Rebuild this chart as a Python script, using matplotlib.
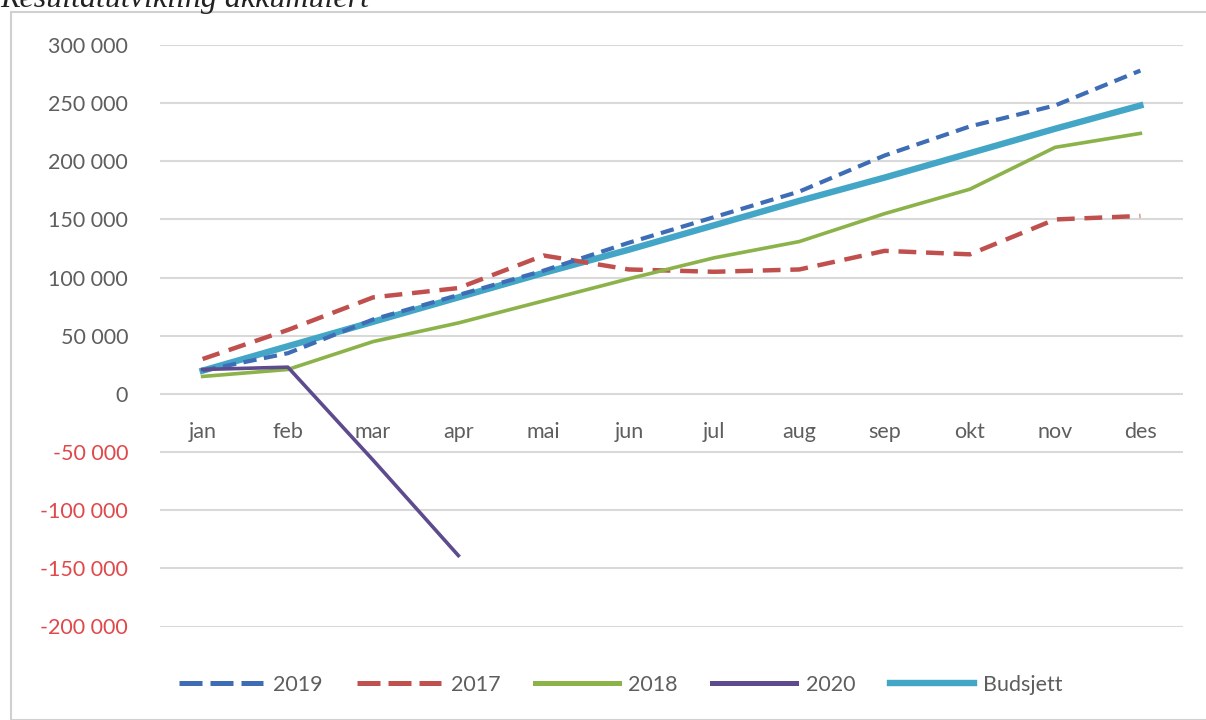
import matplotlib
matplotlib.use("Agg")
import matplotlib.pyplot as plt
from matplotlib.patches import Rectangle
from matplotlib.lines import Line2D
from matplotlib.ticker import FuncFormatter

# Accumulated result per month
months = ["jan", "feb", "mar", "apr", "mai", "jun", "jul", "aug", "sep", "okt", "nov", "des"]
res_2019 = [20000, 35000, 64000, 85000, 106000, 130000, 152000, 174000, 205000, 230000, 248000, 278000]
res_2017 = [30000, 55000, 83000, 91000, 119000, 107000, 105000, 107000, 123000, 120000, 150000, 153000]
res_2018 = [15000, 21000, 45000, 61000, 80000, 99000, 117000, 131000, 155000, 176000, 212000, 224000]
res_2020 = [21000, 23000, -57000, -139000]
budsjett = [20000, 41000, 62000, 83000, 104000, 124000, 145000, 166000, 186000, 207000, 228000, 248000]
y_ticks = [-200000, -150000, -100000, -50000, 0, 50000, 100000, 150000, 200000, 250000, 300000]

FONT = ["Lato", "DejaVu Sans"]
FS = 15.5
GREY = "#5E5E5E"
NEG_RED = "#E0484A"

C2019, C2017, C2018, C2020, CBUD = "#3E6DB5", "#C0504D", "#8CB24A", "#5E4B8E", "#43A6C6"

W, H = 1206, 720
fig = plt.figure(figsize=(W / 100, H / 100), dpi=100)

# chart frame
fig.patches.append(Rectangle((11 / W, 0), 1.2, 1 - 12 / H, transform=fig.transFigure,
                             fill=False, edgecolor="#D0D0D0", linewidth=1.5))

# title, partly above the top edge
fig.text(0.0, 1 - 7 / H, "Resultatutvikling akkumulert", family="Liberation Serif",
         style="italic", fontsize=23, color="#222222", ha="left", va="baseline")

left, right = 160 / W, 1183 / W
top, bottom = 1 - 45 / H, 1 - 626.5 / H
ax = fig.add_axes([left, bottom, right - left, top - bottom])

x = list(range(len(months)))
ax.plot(x, res_2019, color=C2019, lw=3.0, dashes=(3.2, 1.8), zorder=4)
ax.plot(x, res_2017, color=C2017, lw=3.2, dashes=(4.0, 2.2), zorder=3)
ax.plot(x, res_2018, color=C2018, lw=2.6, zorder=3)
ax.plot(x[:len(res_2020)], res_2020, color=C2020, lw=2.6, zorder=5)
ax.plot(x, budsjett, color=CBUD, lw=4.6, zorder=2)

ax.set_xlim(-0.5, len(months) - 0.5)
ax.set_ylim(-200000, 300000)
ax.set_yticks(y_ticks)
ax.yaxis.set_major_formatter(FuncFormatter(lambda v, p: f"{int(v):,}".replace(",", " ")))
ax.grid(axis="y", color="#D9D9D9", linewidth=1.5, zorder=0)
ax.set_axisbelow(True)
ax.tick_params(axis="y", length=0, pad=23, labelsize=FS, labelcolor=GREY)
for lab in ax.get_yticklabels():
    lab.set_family(FONT)
    if lab.get_text().startswith("-"):
        lab.set_color(NEG_RED)
ax.set_xticks([])
for s in ax.spines.values():
    s.set_visible(False)

# category labels sit below the zero line
for i, m in enumerate(months):
    ax.annotate(m, (i, 0), xytext=(0, -38), textcoords="offset pixels",
                ha="center", va="center", fontsize=FS, color=GREY, family=FONT)

# legend keys with longer dashes
handles = [
    Line2D([], [], color=C2019, lw=3.6, dashes=(4.6, 1.6)),
    Line2D([], [], color=C2017, lw=3.6, dashes=(4.6, 1.6)),
    Line2D([], [], color=C2018, lw=3.6),
    Line2D([], [], color=C2020, lw=3.6),
    Line2D([], [], color=CBUD, lw=4.6),
]
labels = ["2019", "2017", "2018", "2020", "Budsjett"]
leg = fig.legend(handles, labels, loc="center", bbox_to_anchor=(0.515, 1 - 685 / H),
                 ncol=5, frameon=False, handlelength=3.9, handletextpad=0.45,
                 columnspacing=1.6, prop={"family": FONT, "size": FS})
for t in leg.get_texts():
    t.set_color(GREY)

fig.savefig("out.png", dpi=100)
